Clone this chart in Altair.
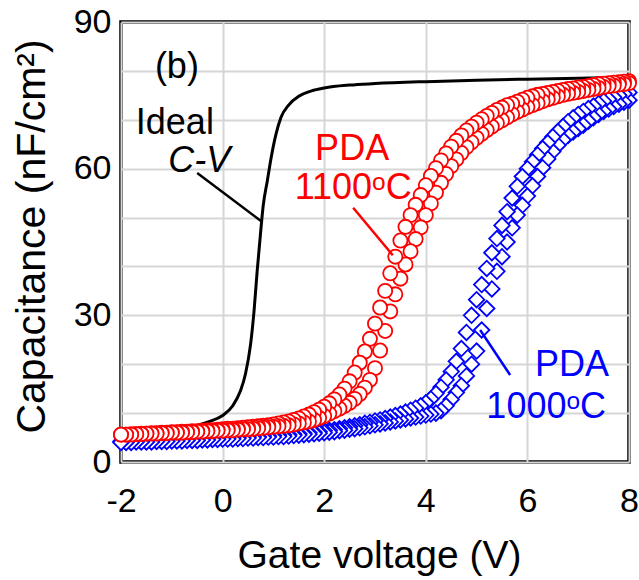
import altair as alt
import pandas as pd

FONT = "Liberation Sans"

# Gate-voltage sweep (V), 0.1 V steps from -2 to 8
volts = [round(-2 + 0.1 * i, 1) for i in range(101)]

# PDA 1100 C, left (lower-voltage) branch
pda1100_a = [5.6, 5.6, 5.7, 5.7, 5.8, 5.8, 5.9, 5.9, 6.0, 6.0,
             6.1, 6.1, 6.2, 6.2, 6.3, 6.3, 6.4, 6.5, 6.5, 6.6,
             6.7, 6.8, 6.8, 6.9, 7.0, 7.1, 7.2, 7.3, 7.4, 7.5,
             7.7, 7.9, 8.1, 8.3, 8.6, 8.9, 9.3, 9.7, 10.2, 10.7,
             11.3, 12.0, 12.8, 13.8, 15.0, 16.5, 18.3, 20.3, 22.6, 25.2,
             28.3, 31.6, 35.0, 38.6, 42.0, 45.3, 48.1, 50.5, 52.6, 54.6,
             56.6, 58.5, 60.1, 61.7, 63.1, 64.5, 65.7, 66.8, 67.8, 68.6,
             69.4, 70.1, 70.8, 71.4, 72.0, 72.5, 73.0, 73.3, 73.7, 74.1,
             74.5, 74.8, 75.1, 75.3, 75.5, 75.7, 75.9, 76.1, 76.3, 76.4,
             76.6, 76.7, 76.9, 77.1, 77.3, 77.4, 77.5, 77.6, 77.7, 77.8,
             77.9]
# PDA 1100 C, right branch
pda1100_b = [5.6, 5.6, 5.6, 5.7, 5.7, 5.8, 5.8, 5.8, 5.9, 5.9,
             6.0, 6.0, 6.0, 6.1, 6.1, 6.2, 6.2, 6.3, 6.3, 6.4,
             6.4, 6.5, 6.5, 6.6, 6.7, 6.7, 6.8, 6.9, 7.0, 7.1,
             7.2, 7.3, 7.4, 7.5, 7.7, 7.9, 8.1, 8.3, 8.6, 9.0,
             9.4, 9.9, 10.4, 10.9, 11.5, 12.1, 12.9, 13.9, 15.2, 16.8,
             19.2, 22.8, 26.8, 30.8, 34.3, 37.5, 40.4, 43.1, 45.6, 48.0,
             50.5, 52.9, 55.1, 57.1, 58.9, 60.5, 61.9, 63.2, 64.4, 65.4,
             66.3, 67.1, 67.9, 68.6, 69.3, 69.9, 70.5, 71.1, 71.6, 72.1,
             72.6, 73.0, 73.4, 73.8, 74.2, 74.5, 74.8, 75.1, 75.3, 75.5,
             75.7, 75.9, 76.1, 76.3, 76.5, 76.7, 76.9, 77.0, 77.2, 77.3,
             77.5]
# PDA 1000 C, left branch
pda1000_a = [4.2, 4.2, 4.2, 4.3, 4.3, 4.3, 4.3, 4.4, 4.4, 4.4,
             4.5, 4.5, 4.5, 4.6, 4.6, 4.7, 4.7, 4.7, 4.8, 4.8,
             4.9, 4.9, 5.0, 5.0, 5.1, 5.1, 5.2, 5.2, 5.3, 5.3,
             5.4, 5.5, 5.5, 5.6, 5.7, 5.8, 5.9, 6.0, 6.1, 6.2,
             6.4, 6.5, 6.6, 6.8, 7.0, 7.2, 7.4, 7.6, 7.9, 8.1,
             8.4, 8.6, 8.9, 9.2, 9.5, 9.8, 10.2, 10.6, 11.0, 11.5,
             12.1, 12.9, 14.0, 15.3, 16.8, 18.5, 20.6, 23.2, 26.5, 30.0,
             33.2, 36.3, 39.6, 42.8, 45.7, 48.4, 51.2, 54.0, 56.4, 58.4,
             60.0, 61.4, 62.8, 64.1, 65.3, 66.5, 67.6, 68.6, 69.6, 70.4,
             71.1, 71.7, 72.3, 72.8, 73.3, 73.8, 74.2, 74.6, 75.0, 75.3,
             75.6]
# PDA 1000 C, right branch
pda1000_b = [4.0, 4.0, 4.0, 4.1, 4.1, 4.1, 4.1, 4.2, 4.2, 4.2,
             4.3, 4.3, 4.3, 4.4, 4.4, 4.4, 4.5, 4.5, 4.6, 4.6,
             4.7, 4.7, 4.7, 4.8, 4.8, 4.9, 4.9, 5.0, 5.0, 5.1,
             5.1, 5.2, 5.2, 5.3, 5.4, 5.5, 5.6, 5.7, 5.8, 5.9,
             6.0, 6.1, 6.2, 6.4, 6.5, 6.7, 6.8, 7.0, 7.2, 7.4,
             7.6, 7.8, 8.0, 8.2, 8.4, 8.6, 8.8, 9.0, 9.2, 9.4,
             9.6, 9.8, 10.0, 10.5, 11.5, 12.8, 14.2, 15.6, 17.6, 20.0,
             22.7, 27.0, 31.4, 35.4, 39.0, 42.0, 45.0, 47.9, 50.5, 52.5,
             54.4, 56.5, 58.4, 60.2, 62.0, 63.5, 64.8, 65.9, 66.8, 67.5,
             68.2, 68.9, 69.7, 70.4, 71.1, 71.7, 72.2, 72.7, 73.2, 73.6,
             74.0]

# Ideal C-V curve
ideal_v = [-2, -1.5, -1, -0.5, -0.25, 0, 0.2, 0.35, 0.45, 0.55, 0.62, 0.68,
           0.74, 0.8, 0.88, 0.96, 1.05, 1.15, 1.3, 1.5, 1.75, 2.0, 2.5, 3.0,
           4.0, 5.0, 6.0, 7.0, 8.0]
ideal_c = [5.7, 6.0, 6.5, 7.5, 8.3, 9.5, 11.5, 14.5, 18.0, 24.0, 31.0, 39.0,
           46.0, 52.5, 57.5, 62.5, 67.0, 70.5, 73.0, 74.8, 75.9, 76.5, 77.1, 77.4,
           77.8, 78.1, 78.3, 78.5, 78.7]

# Annotations
ann_labels = ["(b)", "Ideal", "PDA", "1100\u1d52C", "PDA", "1000\u1d52C"]
ann_v = [-0.9, -0.94, 2.55, 2.57, 6.88, 6.37]
ann_c = [78.5, 67.1, 61.7, 53.8, 17.6, 9.0]
ann_col = ["black", "black", "#ff0000", "#ff0000", "#0000ff", "#0000ff"]

lead_v = [-0.50, 2.57, 5.07]
lead_c = [59.1, 52.0, 27.0]
lead_v2 = [0.78, 3.35, 5.66]
lead_c2 = [49.1, 42.3, 17.8]
lead_col = ["black", "#ff0000", "#0000ff"]

red_df = pd.DataFrame({"V": volts + volts, "C": pda1100_a + pda1100_b})
blue_df = pd.DataFrame({"V": volts + volts, "C": pda1000_a + pda1000_b})
ideal_df = pd.DataFrame({"V": ideal_v, "C": ideal_c})
text_df = pd.DataFrame({"V": ann_v, "C": ann_c, "label": ann_labels, "col": ann_col})
cv_df = pd.DataFrame({"V": [-0.46], "C": [59.3], "label": ["C-V"], "col": ["black"]})
lead_df = pd.DataFrame({"V": lead_v, "C": lead_c, "V2": lead_v2, "C2": lead_c2, "col": lead_col})

x_scale = alt.Scale(domain=[-2, 8], nice=False, zero=False)
y_scale = alt.Scale(domain=[0, 90], nice=False, zero=False)

x_axis = alt.Axis(
    values=[-2, 0, 2, 4, 6, 8],
    title="Gate voltage (V)",
    labelExpr="datum.value < 0 ? '-' + abs(datum.value) : '' + datum.value",
    labelFont=FONT, labelFontSize=34, labelColor="black", labelPadding=22,
    labelFlush=False, labelOverlap=False,
    ticks=False, tickSize=0, domain=False,
    grid=True, gridColor="#d6d6d6", gridWidth=2,
    titleFont=FONT, titleFontSize=39, titleFontWeight="normal", titleColor="black",
    titleX=258, titleY=105, titleAlign="center", titleBaseline="alphabetic",
)
y_axis = alt.Axis(
    values=list(range(0, 91, 10)),
    title="Capacitance (nF/cm\u00b2)",
    labelExpr="datum.value % 30 == 0 ? datum.label : ''",
    labelFont=FONT, labelFontSize=34, labelColor="black", labelPadding=10,
    labelFlush=False, labelOverlap=False,
    ticks=False, tickSize=0, domain=False,
    grid=True, gridColor="#d6d6d6", gridWidth=2,
    titleFont=FONT, titleFontSize=41, titleFontWeight="normal", titleColor="black",
    titleAngle=-90, titleX=-77, titleY=214, titleAlign="center", titleBaseline="alphabetic",
)


def xenc():
    return alt.X("V:Q", scale=x_scale, axis=x_axis)


def yenc():
    return alt.Y("C:Q", scale=y_scale, axis=y_axis)


ideal = alt.Chart(ideal_df).mark_line(
    color="black", strokeWidth=3, interpolate="monotone"
).encode(x=xenc(), y=yenc())

blue = alt.Chart(blue_df).mark_point(
    shape="diamond", size=240, filled=True, fill="white", stroke="#0000ff",
    strokeWidth=1.8, opacity=1,
).encode(x=xenc(), y=yenc(), order=alt.Order("V:Q", sort="descending"))

red = alt.Chart(red_df).mark_point(
    shape="circle", size=200, filled=True, fill="white", stroke="#ff0000",
    strokeWidth=1.8, opacity=1,
).encode(x=xenc(), y=yenc(), order=alt.Order("V:Q", sort="descending"))

leads = alt.Chart(lead_df).mark_rule(strokeWidth=2.5).encode(
    x=xenc(), y=yenc(), x2="V2:Q", y2="C2:Q",
    color=alt.Color("col:N", scale=None),
)

texts = alt.Chart(text_df).mark_text(
    font=FONT, fontSize=36, align="center", baseline="alphabetic"
).encode(
    x=xenc(), y=yenc(), text="label:N",
    color=alt.Color("col:N", scale=None),
)

cv_text = alt.Chart(cv_df).mark_text(
    font=FONT, fontSize=36, fontStyle="italic", align="center", baseline="alphabetic"
).encode(
    x=xenc(), y=yenc(), text="label:N",
    color=alt.Color("col:N", scale=None),
)

chart = alt.layer(ideal, blue, red, leads, texts, cv_text).properties(
    width=508,
    height=440,
    padding={"left": 121, "top": 22, "right": 10, "bottom": 118},
    autosize="none",
    background="white",
).configure_view(stroke="black", strokeWidth=3.5)

chart.save("out.html", embed_options={"renderer": "svg", "actions": False})
